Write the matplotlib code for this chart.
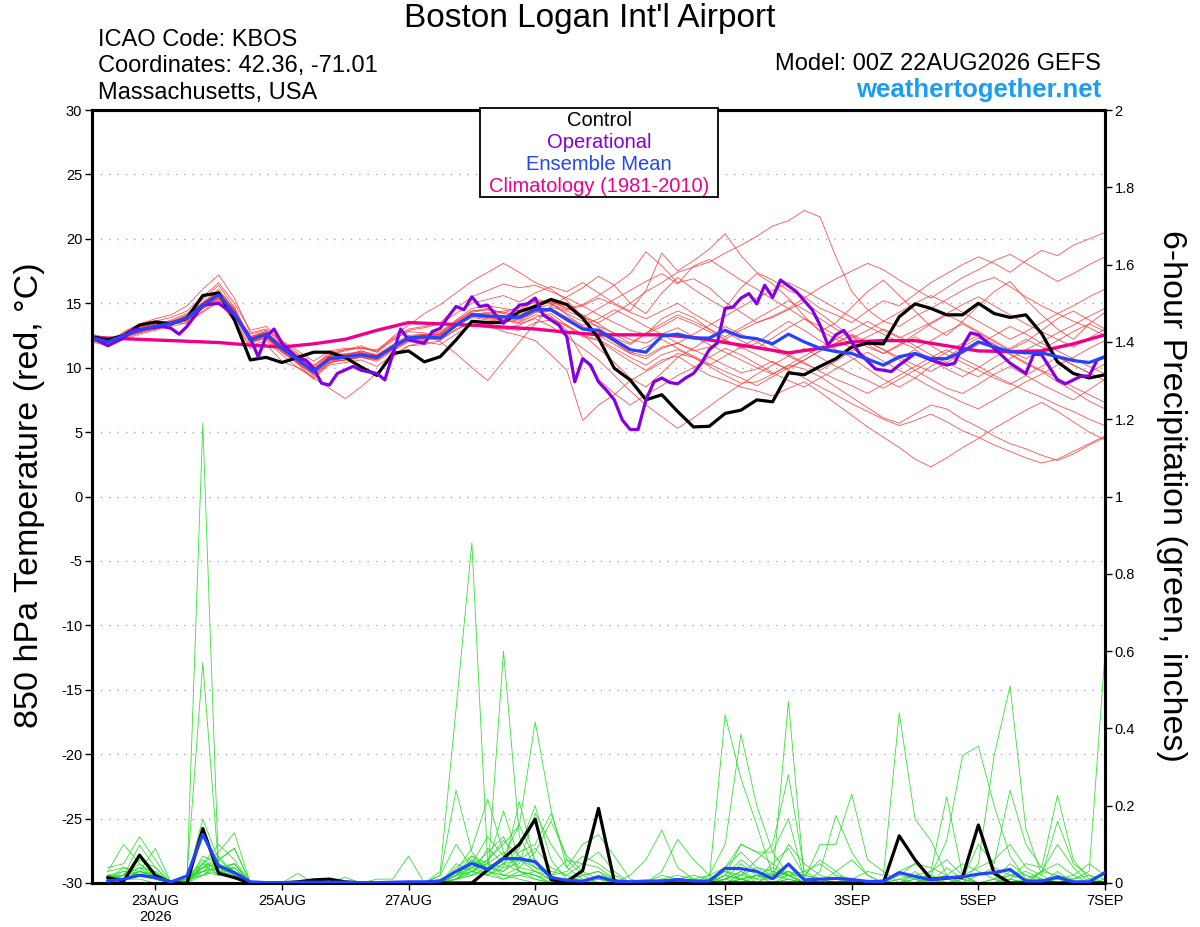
import matplotlib
matplotlib.use("Agg")
import matplotlib.pyplot as plt
from matplotlib.patches import Rectangle
import numpy as np

plt.rcParams['font.family'] = ['Liberation Sans', 'DejaVu Sans']

# ---- time axis (forecast hours from 00Z 22AUG2026) ----
hours_t = np.arange(0, 385, 6)          # temperature: 0..384 h
hours_p = np.arange(6, 385, 6)          # precipitation: 6..384 h
tick_hours = [24, 72, 120, 168, 240, 288, 336, 384]
tick_labels = ["23AUG\n2026", "25AUG", "27AUG", "29AUG", "1SEP", "3SEP", "5SEP", "7SEP"]

# ---- 850 hPa temperature (C) ----
ctl_temp = [12.4, 12.15, 12.5, 13.3, 13.55, 13.4, 13.85, 15.6, 15.8, 13.7, 10.6, 10.8, 10.4,
            10.8, 11.2, 11.2, 10.8, 10.05, 9.4, 11.1, 11.3, 10.45, 10.85, 12.15, 13.6, 13.5,
            13.5, 14.35, 14.75, 15.3, 14.9, 13.85, 12.3, 9.95, 9.05, 7.5, 7.9, 6.6, 5.4,
            5.45, 6.45, 6.7, 7.5, 7.35, 9.6, 9.45, 10.1, 10.7, 11.6, 11.9, 11.85, 13.95,
            14.95, 14.6, 14.1, 14.1, 15.0, 14.2, 13.9, 14.1, 12.65, 10.45, 9.55, 9.2, 9.45]

mean_temp = [12.35, 12.0, 12.5, 12.9, 13.2, 13.45, 13.85, 14.85, 15.65, 14.2, 12.15, 12.6, 11.5,
             10.6, 9.7, 10.7, 10.85, 11.0, 10.8, 11.6, 12.3, 12.4, 12.3, 13.3, 14.1, 14.0,
             13.95, 13.9, 14.5, 14.5, 13.75, 13.0, 12.9, 12.15, 11.4, 11.2, 12.45, 12.6, 12.3,
             12.3, 12.9, 12.4, 12.25, 11.85, 12.6, 12.0, 11.5, 11.25, 11.1, 10.65, 10.2, 10.85,
             11.1, 10.7, 10.7, 11.25, 12.0, 11.6, 11.25, 11.15, 11.15, 10.85, 10.55, 10.4, 10.85]

clim_hours = np.arange(0, 385, 12)
clim_temp = [12.35, 12.25, 12.15, 12.05, 11.95, 11.75, 11.6, 11.85, 12.2, 12.9, 13.5, 13.4,
             13.3, 13.15, 13.0, 12.75, 12.55, 12.55, 12.55, 12.35, 11.95, 11.55, 11.15, 11.5,
             12.0, 12.1, 12.1, 11.7, 11.3, 11.25, 11.3, 11.85, 12.55]

op_hours = [0, 6, 12, 15, 21, 27, 30, 33, 36, 42, 48, 54, 60, 63, 66, 69, 72, 78, 81, 84, 87,
            90, 93, 99, 102, 108, 111, 117, 120, 126, 129, 132, 135, 138, 141, 144, 147, 150,
            153, 156, 159, 162, 165, 168, 171, 174, 177, 180, 183, 186, 189, 192, 195, 198, 201,
            204, 207, 210, 213, 216, 219, 222, 225, 228, 231, 234, 237, 240, 243, 246, 249, 252,
            255, 258, 261, 267, 273, 276, 279, 282, 285, 291, 297, 303, 306, 312, 318, 324, 327,
            330, 333, 336, 342, 348, 354, 357, 360, 366, 369, 375, 378, 381, 384]
op_temp = [12.35, 11.7, 12.3, 12.9, 13.05, 13.2, 13.05, 12.6, 13.2, 14.85, 15.0, 14.1, 12.3,
           10.85, 12.4, 13.0, 11.9, 10.7, 10.6, 9.95, 8.8, 8.65, 9.55, 10.1, 9.8, 9.55, 9.05,
           13.0, 12.15, 11.9, 12.8, 13.05, 13.95, 14.75, 14.5, 15.5, 14.75, 14.85, 14.1, 13.45,
           14.2, 14.85, 14.95, 15.4, 14.1, 13.7, 13.3, 12.4, 8.9, 10.7, 10.2, 8.9, 8.25, 7.5,
           5.95, 5.2, 5.2, 7.5, 8.9, 9.2, 8.85, 8.75, 9.2, 9.55, 10.35, 11.4, 11.9, 14.6, 14.7,
           15.4, 15.75, 14.95, 16.4, 15.45, 16.8, 15.9, 14.5, 13.3, 11.75, 12.55, 12.9, 11.1,
           9.9, 9.7, 10.2, 11.1, 10.6, 10.2, 10.35, 11.65, 12.7, 12.55, 11.5, 10.35, 9.55,
           11.05, 11.0, 9.05, 8.75, 9.35, 9.35, 10.6, 10.85]

members_temp = [
    [12.1, 11.8, 12.7, 13.3, 13.6, 13.9, 14.4, 15.5, 16.6, 15.0, 12.9, 13.2, 12.0,
     11.1, 10.2, 11.0, 11.4, 11.7, 11.2, 12.1, 12.9, 13.1, 13.4, 14.2, 15.0, 15.3,
     15.6, 15.1, 15.8, 16.3, 15.9, 16.6, 15.8, 15.0, 14.4, 16.0, 18.9, 17.5, 18.3,
     19.2, 20.4, 18.7, 17.4, 16.8, 16.0, 15.5, 14.6, 14.1, 13.5, 14.4, 15.2, 14.8,
     15.7, 16.6, 17.3, 18.0, 18.6, 18.1, 17.4, 18.3, 19.1, 18.7, 19.5, 20.0, 20.5],
    [12.5, 12.2, 12.3, 12.8, 13.0, 13.5, 13.4, 14.4, 15.2, 13.8, 11.7, 12.1, 11.0,
     10.0, 9.3, 10.2, 10.4, 10.6, 10.1, 11.0, 11.7, 11.8, 12.1, 13.0, 13.5, 13.3,
     12.8, 12.5, 12.1, 11.0, 9.8, 5.9, 7.1, 7.9, 9.0, 9.7, 10.4, 11.1, 10.8,
     10.1, 9.4, 8.8, 8.9, 9.5, 10.2, 9.9, 9.3, 8.5, 7.7, 6.9, 6.1, 5.7,
     6.4, 7.1, 6.8, 6.0, 5.4, 4.7, 4.1, 3.7, 3.2, 2.8, 3.3, 4.0, 4.6],
    [12.0, 11.7, 12.4, 13.0, 13.4, 13.3, 14.1, 15.0, 16.1, 14.5, 11.9, 12.3, 11.2,
     10.4, 9.5, 10.3, 10.9, 11.3, 11.0, 11.8, 12.5, 12.6, 12.0, 11.1, 10.0, 9.0,
     10.5, 12.0, 13.4, 14.8, 15.5, 16.2, 17.1, 16.4, 15.0, 14.2, 15.8, 17.0, 16.1,
     15.3, 14.6, 16.2, 17.3, 16.5, 15.4, 14.0, 12.8, 13.5, 14.7, 15.9, 16.8, 15.6,
     14.4, 13.2, 12.5, 13.6, 14.8, 15.9, 16.7, 15.3, 14.1, 13.0, 12.2, 13.4, 14.3],
    [12.4, 12.1, 12.3, 12.7, 13.1, 13.6, 13.9, 14.6, 15.4, 14.4, 12.4, 12.8, 11.7,
     10.8, 10.0, 11.0, 11.3, 11.6, 11.2, 12.4, 13.3, 14.2, 14.9, 15.8, 16.7, 17.4,
     18.1, 17.4, 16.6, 16.1, 15.2, 14.0, 13.1, 12.3, 11.8, 12.6, 13.8, 14.4, 13.9,
     13.0, 12.2, 11.5, 11.9, 12.8, 13.6, 12.9, 12.1, 11.4, 10.8, 9.9, 9.1, 8.5,
     9.2, 10.1, 10.8, 11.6, 12.3, 11.8, 11.0, 10.3, 9.7, 8.9, 8.2, 7.4, 6.8],
    [12.3, 12.0, 12.6, 13.2, 13.3, 13.7, 14.2, 15.3, 16.4, 14.7, 12.2, 12.5, 11.3,
     10.3, 9.1, 10.4, 10.6, 10.9, 10.9, 11.7, 12.2, 12.5, 12.8, 13.6, 14.4, 14.6,
     14.2, 14.8, 15.3, 15.1, 14.6, 14.9, 15.6, 16.4, 17.3, 19.0, 17.9, 16.6, 16.9,
     16.2, 15.1, 14.3, 13.5, 13.9, 14.5, 15.1, 14.2, 13.3, 12.4, 11.6, 11.1, 11.8,
     12.6, 13.4, 14.1, 13.5, 12.8, 12.1, 11.4, 12.0, 12.9, 13.8, 14.4, 13.7, 13.0],
    [12.2, 11.9, 12.5, 12.8, 13.2, 13.4, 13.7, 14.8, 15.7, 14.3, 12.0, 12.4, 11.4,
     10.5, 9.8, 10.9, 11.1, 11.2, 10.7, 11.5, 12.2, 12.3, 12.6, 13.5, 14.3, 14.5,
     14.3, 14.0, 14.7, 15.1, 14.8, 13.9, 13.5, 14.2, 15.0, 15.9, 16.6, 17.4, 17.8,
     18.2, 18.9, 19.5, 20.2, 21.0, 21.4, 22.2, 21.7, 18.6, 15.9, 14.5, 13.6, 13.2,
     14.0, 14.6, 15.3, 16.0, 16.6, 17.0, 16.3, 15.5, 14.8, 14.2, 13.6, 13.1, 12.5],
    [12.6, 12.3, 12.4, 12.9, 13.0, 13.5, 13.6, 14.7, 15.5, 14.0, 12.3, 12.7, 11.6,
     10.7, 9.9, 10.6, 10.7, 10.8, 10.6, 11.4, 12.1, 12.2, 12.4, 13.4, 14.0, 13.8,
     13.7, 13.5, 14.1, 13.9, 13.2, 12.4, 12.1, 11.3, 10.5, 9.8, 10.6, 10.9, 10.1,
     9.4, 9.0, 8.5, 8.2, 7.8, 8.4, 8.9, 8.1, 7.2, 6.3, 5.4, 4.6, 3.8,
     2.9, 2.3, 3.0, 3.8, 4.5, 5.3, 6.0, 6.7, 7.3, 6.6, 5.8, 5.0, 4.4],
    [12.3, 12.1, 12.5, 12.9, 13.3, 13.6, 13.8, 14.9, 15.8, 14.4, 12.3, 12.7, 11.6,
     10.9, 9.8, 10.9, 11.0, 11.3, 10.9, 11.7, 12.4, 12.6, 12.7, 13.7, 14.6, 14.8,
     14.6, 14.4, 15.2, 15.0, 14.1, 13.2, 12.8, 12.0, 11.1, 10.7, 11.5, 11.9, 11.3,
     11.6, 12.2, 12.9, 13.5, 14.0, 14.6, 13.8, 12.9, 12.2, 11.5, 10.8, 10.1, 10.7,
     11.4, 10.6, 9.9, 9.3, 10.0, 10.8, 11.5, 12.2, 11.6, 10.9, 10.2, 9.6, 9.0],
    [12.4, 12.2, 12.6, 12.7, 13.0, 13.3, 13.9, 14.6, 15.3, 14.1, 12.6, 12.9, 12.1,
     11.3, 10.5, 11.3, 11.5, 11.5, 11.3, 12.2, 12.8, 12.7, 12.2, 12.9, 13.6, 13.4,
     13.1, 13.3, 13.9, 14.2, 13.3, 12.6, 11.5, 10.4, 9.2, 8.5, 9.6, 10.8, 11.5,
     12.3, 13.2, 12.6, 12.0, 11.3, 10.9, 10.3, 9.8, 10.5, 11.3, 12.0, 11.4, 10.6,
     9.8, 9.1, 8.4, 8.0, 8.7, 9.5, 10.1, 9.4, 8.7, 8.1, 7.5, 8.3, 9.1],
    [12.3, 11.9, 12.6, 13.1, 13.4, 13.5, 14.0, 15.1, 15.9, 14.6, 12.2, 12.6, 11.5,
     10.6, 9.7, 10.5, 10.8, 11.0, 10.8, 11.4, 12.1, 12.3, 12.2, 13.2, 13.9, 13.7,
     13.6, 13.8, 14.3, 14.7, 14.4, 13.9, 14.6, 15.3, 16.0, 16.7, 17.3, 16.5, 17.9,
     18.4, 17.6, 16.8, 16.1, 15.3, 14.6, 15.4, 16.2, 16.9, 17.5, 18.1, 17.6, 16.8,
     16.1, 15.4, 16.2, 17.0, 17.6, 18.3, 18.8, 18.1, 17.4, 16.7, 17.3, 18.0, 18.6],
    [12.2, 12.1, 12.3, 12.9, 13.1, 13.4, 13.7, 14.7, 15.6, 14.2, 12.1, 12.5, 11.4,
     10.5, 9.6, 10.6, 10.7, 10.9, 10.6, 11.5, 12.2, 12.3, 12.4, 13.3, 14.2, 14.1,
     14.0, 13.7, 14.4, 14.0, 12.9, 10.8, 9.1, 8.0, 7.1, 7.9, 8.6, 9.4, 10.0,
     10.8, 11.5, 11.0, 10.3, 9.6, 9.0, 8.5, 9.2, 9.9, 10.6, 11.2, 10.5, 9.8,
     9.2, 8.5, 7.9, 7.3, 6.8, 7.5, 8.2, 8.9, 9.5, 10.2, 10.8, 11.5, 12.1],
    [12.5, 12.3, 12.6, 13.0, 13.4, 13.6, 14.1, 15.0, 15.8, 14.3, 12.1, 12.6, 11.4,
     10.5, 9.8, 10.8, 11.0, 11.1, 11.0, 11.6, 12.3, 12.4, 12.5, 13.4, 14.2, 14.2,
     14.4, 14.6, 15.1, 15.0, 14.2, 13.6, 13.2, 12.7, 12.2, 11.9, 12.6, 13.1, 12.4,
     11.8, 11.2, 10.6, 10.0, 9.5, 10.2, 10.9, 11.6, 12.2, 12.9, 13.6, 12.9, 12.3,
     12.9, 13.5, 14.2, 14.9, 15.5, 14.8, 14.1, 13.4, 12.8, 12.2, 11.6, 12.3, 13.0],
    [12.2, 12.0, 12.4, 12.8, 13.2, 13.4, 13.6, 14.6, 15.4, 14.0, 12.0, 12.4, 11.3,
     10.3, 9.5, 10.5, 10.6, 10.8, 10.5, 11.3, 12.0, 12.1, 12.3, 13.2, 14.0, 13.9,
     13.8, 13.6, 14.3, 14.4, 13.8, 13.1, 12.7, 12.0, 11.2, 10.9, 11.6, 11.9, 11.4,
     10.8, 10.2, 9.6, 9.9, 10.5, 9.8, 9.2, 8.5, 7.9, 7.2, 6.6, 6.0, 5.5,
     5.9, 6.4, 5.8, 5.1, 4.6, 4.0, 3.5, 3.0, 2.6, 2.9, 3.5, 4.1, 4.7],
    [12.1, 11.8, 12.8, 13.4, 13.8, 14.1, 14.8, 16.1, 17.2, 15.4, 12.7, 13.0, 11.9,
     10.8, 9.9, 10.8, 10.9, 11.0, 10.7, 11.6, 12.3, 12.5, 12.6, 13.6, 14.4, 14.5,
     14.2, 14.0, 14.6, 14.9, 14.5, 14.8, 15.4, 14.9, 14.3, 13.8, 14.4, 15.0, 14.2,
     13.5, 12.8, 12.1, 11.5, 12.3, 13.1, 13.8, 13.2, 12.5, 11.8, 12.4, 13.0, 12.4,
     11.7, 11.0, 10.4, 9.8, 9.3, 10.0, 10.7, 11.4, 12.0, 12.7, 13.3, 14.0, 14.6],
    [12.3, 12.0, 12.2, 12.6, 12.9, 13.2, 13.5, 14.3, 15.1, 13.6, 11.5, 11.8, 10.5,
     10.0, 9.2, 8.4, 7.6, 8.5, 9.6, 10.8, 11.7, 12.0, 11.8, 12.6, 13.3, 13.1,
     13.0, 12.9, 13.5, 13.7, 13.3, 12.5, 12.2, 11.5, 10.8, 10.2, 11.0, 11.4, 10.8,
     10.2, 10.9, 11.6, 12.3, 11.7, 11.0, 10.4, 9.7, 9.1, 8.6, 8.0, 8.7, 9.4,
     10.1, 10.8, 11.4, 10.7, 10.1, 9.4, 8.8, 8.2, 7.7, 7.1, 6.6, 6.0, 5.5],
    [12.4, 12.2, 12.5, 13.0, 13.3, 13.5, 14.0, 14.9, 15.9, 14.5, 12.4, 12.7, 11.8,
     11.0, 10.1, 11.2, 11.4, 11.5, 11.4, 12.3, 13.0, 13.2, 13.5, 14.6, 15.5, 16.0,
     16.5, 16.2, 16.4, 15.9, 15.4, 14.8, 14.1, 13.5, 12.9, 12.6, 13.2, 13.9, 13.4,
     12.8, 12.1, 11.6, 11.0, 10.4, 9.9, 10.6, 11.3, 11.9, 12.6, 12.0, 11.4, 10.8,
     10.2, 9.7, 10.4, 11.1, 11.8, 12.5, 13.2, 12.6, 11.9, 11.3, 10.7, 10.1, 9.5],
    [12.3, 12.1, 12.6, 12.9, 13.1, 13.4, 13.8, 14.7, 15.5, 14.1, 12.0, 12.3, 11.2,
     10.4, 9.4, 10.4, 10.6, 10.8, 10.7, 11.5, 12.2, 12.3, 12.5, 13.3, 14.0, 13.9,
     13.7, 13.4, 13.8, 13.2, 12.4, 11.5, 10.6, 9.4, 8.2, 7.1, 6.2, 5.3, 6.1,
     7.0, 7.9, 8.7, 9.5, 10.2, 10.9, 11.5, 10.8, 10.1, 9.5, 9.0, 8.4, 9.1,
     9.8, 10.5, 11.2, 11.9, 12.5, 11.8, 11.1, 10.4, 9.8, 9.2, 8.5, 7.9, 7.3],
    [12.4, 12.0, 12.5, 12.8, 13.2, 13.5, 13.9, 14.8, 15.6, 14.3, 12.4, 12.8, 11.7,
     10.8, 9.9, 10.9, 11.0, 11.2, 10.9, 11.7, 12.4, 12.5, 12.6, 13.5, 14.1, 14.3,
     14.0, 14.3, 14.9, 15.2, 14.6, 14.1, 13.4, 12.6, 11.9, 12.7, 13.4, 14.1, 13.6,
     13.0, 12.4, 13.1, 13.8, 14.5, 15.2, 14.5, 13.8, 13.0, 12.3, 12.9, 13.6, 14.3,
     15.0, 15.6, 15.0, 14.3, 13.6, 12.9, 12.2, 12.8, 13.5, 14.2, 14.8, 15.5, 16.1],
    [12.2, 11.9, 12.4, 12.9, 13.3, 13.6, 13.9, 15.0, 15.8, 14.4, 12.2, 12.6, 11.5,
     10.6, 9.7, 10.7, 10.9, 11.1, 10.8, 11.6, 12.3, 12.5, 12.4, 13.3, 14.1, 14.0,
     13.9, 14.1, 14.7, 14.4, 13.6, 13.0, 12.5, 11.8, 11.1, 11.6, 12.2, 11.5, 10.9,
     10.3, 9.7, 9.2, 8.6, 9.3, 10.0, 10.6, 11.3, 11.9, 12.5, 11.8, 11.1, 11.7,
     12.4, 11.7, 11.0, 10.4, 9.8, 9.2, 8.7, 9.4, 10.1, 10.8, 10.2, 9.6, 10.3],
    [12.3, 12.1, 12.4, 12.8, 13.2, 13.5, 13.8, 14.8, 15.6, 14.2, 12.2, 12.5, 11.5,
     10.6, 9.8, 10.8, 10.9, 11.0, 10.9, 11.7, 12.3, 12.4, 12.3, 13.3, 14.2, 14.1,
     14.0, 14.0, 14.6, 14.6, 13.9, 13.3, 13.8, 14.5, 13.9, 13.2, 12.6, 11.9, 12.6,
     13.3, 14.0, 14.7, 15.4, 16.0, 16.6, 16.0, 15.3, 14.6, 13.9, 13.2, 12.6, 12.0,
     11.5, 12.1, 12.8, 13.4, 12.7, 12.0, 11.3, 10.7, 11.4, 12.1, 12.8, 13.4, 12.8],
]

# ---- 6-hour precipitation (inches) ----
ctl_precip = [0.014, 0.005, 0.072, 0.02, 0, 0, 0.141, 0.025, 0.014, 0, 0, 0, 0.003, 0.008, 0.01, 0.003,
              0, 0, 0, 0, 0, 0, 0, 0, 0.034, 0.064, 0.1, 0.165, 0.008, 0.004, 0.032, 0.193,
              0.004, 0.002, 0.003, 0.002, 0, 0, 0, 0, 0, 0, 0, 0, 0, 0, 0, 0,
              0, 0, 0.122, 0.06, 0.01, 0.013, 0.015, 0.15, 0.025, 0, 0, 0, 0, 0, 0, 0]

mean_precip = [0.005, 0.01, 0.02, 0.014, 0.003, 0.018, 0.126, 0.044, 0.027, 0.003, 0.001, 0.001, 0.002, 0.002, 0.002, 0.002,
               0.001, 0.001, 0.002, 0.003, 0.003, 0.005, 0.03, 0.051, 0.035, 0.063, 0.063, 0.055, 0.014, 0.007, 0.005, 0.016,
               0.005, 0.003, 0.005, 0.005, 0.009, 0.005, 0.005, 0.038, 0.037, 0.03, 0.011, 0.049, 0.008, 0.01, 0.012, 0.009,
               0.004, 0.004, 0.027, 0.017, 0.008, 0.014, 0.016, 0.023, 0.027, 0.035, 0.005, 0.005, 0.015, 0.003, 0.003, 0.027]

members_precip = [
    [0.02, 0.01, 0.03, 0.02, 0, 0.01, 1.19, 0.03, 0.02, 0, 0, 0, 0, 0, 0, 0,
     0, 0, 0, 0, 0, 0, 0.01, 0.05, 0.02, 0.01, 0.03, 0.02, 0, 0, 0, 0.01,
     0, 0, 0, 0.01, 0, 0, 0, 0.02, 0.01, 0, 0, 0.01, 0, 0, 0, 0,
     0, 0, 0.02, 0.01, 0, 0, 0, 0, 0, 0.02, 0.01, 0, 0, 0, 0, 0.01],
    [0.01, 0.03, 0.02, 0.01, 0, 0.02, 0.57, 0.04, 0.03, 0, 0, 0, 0, 0, 0, 0,
     0, 0, 0, 0, 0, 0.03, 0.45, 0.88, 0.05, 0.02, 0.02, 0.01, 0, 0, 0, 0,
     0, 0, 0, 0.02, 0.01, 0, 0, 0.01, 0.03, 0, 0, 0, 0, 0, 0, 0,
     0, 0, 0, 0.03, 0, 0.01, 0, 0, 0, 0.01, 0, 0, 0.02, 0, 0, 0],
    [0.04, 0.05, 0.12, 0.06, 0, 0.01, 0.165, 0.06, 0.03, 0, 0, 0, 0, 0, 0, 0,
     0, 0, 0, 0, 0, 0, 0.02, 0.04, 0.02, 0.6, 0.12, 0.04, 0.02, 0, 0, 0,
     0, 0, 0, 0, 0, 0, 0, 0.01, 0.05, 0.02, 0.01, 0.47, 0.01, 0, 0, 0,
     0, 0, 0, 0.01, 0.02, 0, 0, 0, 0, 0, 0, 0.01, 0, 0, 0, 0],
    [0.03, 0.1, 0.05, 0.02, 0, 0.02, 0.05, 0.08, 0.13, 0, 0, 0, 0, 0, 0, 0,
     0, 0, 0, 0, 0, 0, 0.01, 0.03, 0.06, 0.1, 0.15, 0.417, 0.19, 0.04, 0.01, 0,
     0, 0, 0, 0, 0, 0, 0, 0.02, 0.01, 0, 0, 0.02, 0, 0, 0, 0.01,
     0.03, 0.02, 0.44, 0.165, 0.11, 0.02, 0, 0, 0, 0, 0, 0.01, 0, 0, 0, 0],
    [0.01, 0.02, 0.098, 0.04, 0, 0.01, 0.04, 0.05, 0.02, 0, 0, 0, 0, 0, 0, 0,
     0, 0, 0, 0, 0, 0, 0.02, 0.06, 0.03, 0.01, 0.02, 0.03, 0.01, 0, 0, 0,
     0, 0, 0, 0, 0.01, 0.02, 0.01, 0.435, 0.27, 0.15, 0.02, 0.01, 0, 0, 0, 0,
     0, 0, 0, 0, 0.01, 0, 0, 0.05, 0.33, 0.51, 0.14, 0.02, 0, 0, 0, 0],
    [0, 0.01, 0.03, 0.09, 0, 0.01, 0.03, 0.06, 0.09, 0, 0, 0, 0, 0, 0, 0,
     0, 0, 0, 0, 0, 0, 0.01, 0.02, 0.09, 0.05, 0.06, 0.04, 0.02, 0, 0.02, 0.03,
     0, 0, 0, 0, 0, 0, 0.02, 0.1, 0.385, 0.2, 0.08, 0.02, 0, 0, 0, 0,
     0, 0, 0, 0, 0.02, 0.11, 0.33, 0.354, 0.2, 0.07, 0.01, 0, 0, 0, 0, 0],
    [0.02, 0.02, 0.04, 0.01, 0, 0, 0.03, 0.04, 0.05, 0, 0, 0, 0, 0, 0, 0,
     0, 0, 0, 0, 0, 0.02, 0.24, 0.08, 0.03, 0.02, 0.01, 0, 0, 0, 0, 0,
     0, 0, 0, 0, 0, 0, 0, 0, 0.02, 0.06, 0.1, 0.28, 0.03, 0.01, 0, 0,
     0, 0, 0, 0, 0, 0, 0.01, 0, 0, 0.03, 0.02, 0, 0.02, 0.01, 0.03, 0.595],
    [0.01, 0.04, 0.02, 0.03, 0, 0.01, 0.06, 0.03, 0.04, 0, 0, 0, 0, 0, 0, 0,
     0, 0, 0, 0, 0, 0, 0.03, 0.09, 0.217, 0.08, 0.03, 0.02, 0, 0, 0, 0.02,
     0.01, 0, 0, 0, 0, 0, 0, 0.02, 0.1, 0.08, 0.08, 0.167, 0.01, 0.1, 0.1, 0.23,
     0.06, 0.03, 0, 0, 0, 0, 0.01, 0, 0, 0, 0.01, 0, 0.03, 0, 0, 0],
    [0.01, 0.02, 0.03, 0.02, 0, 0.01, 0.04, 0.07, 0.02, 0, 0, 0, 0.025, 0, 0, 0,
     0, 0, 0, 0, 0, 0, 0.01, 0.04, 0.05, 0.186, 0.06, 0.03, 0.01, 0, 0, 0,
     0, 0.02, 0.06, 0.137, 0.04, 0.01, 0, 0.01, 0, 0.02, 0.01, 0.02, 0, 0.03, 0.175, 0.08,
     0.02, 0, 0, 0.01, 0, 0, 0, 0, 0, 0, 0, 0, 0, 0, 0, 0],
    [0.02, 0.01, 0.02, 0.02, 0, 0, 0.05, 0.04, 0.05, 0, 0, 0, 0, 0, 0, 0,
     0, 0, 0, 0, 0, 0, 0.02, 0.07, 0.05, 0.04, 0.21, 0.05, 0.02, 0, 0, 0,
     0, 0, 0, 0.03, 0.113, 0.06, 0.02, 0, 0.01, 0.02, 0, 0.01, 0, 0, 0, 0,
     0, 0, 0.01, 0.02, 0.03, 0.223, 0.02, 0, 0, 0.01, 0.05, 0.04, 0.227, 0.06, 0.01, 0],
    [0.01, 0.02, 0.05, 0.01, 0, 0.01, 0.02, 0.03, 0.03, 0, 0, 0, 0, 0, 0, 0,
     0, 0, 0, 0, 0, 0, 0.05, 0.03, 0.02, 0.04, 0.05, 0.18, 0.1, 0.04, 0.1, 0.125,
     0.07, 0.01, 0, 0, 0, 0, 0, 0, 0.01, 0, 0.03, 0.02, 0, 0, 0, 0,
     0, 0, 0, 0, 0, 0.01, 0.02, 0.04, 0.06, 0.1, 0.04, 0.02, 0.16, 0.05, 0.02, 0],
    [0.03, 0.04, 0.03, 0.02, 0, 0, 0.07, 0.05, 0.02, 0, 0, 0, 0, 0, 0, 0.015,
     0, 0.01, 0.01, 0.07, 0, 0, 0.02, 0.06, 0.04, 0.03, 0.08, 0.1, 0.18, 0.06, 0.02, 0,
     0, 0, 0, 0, 0, 0, 0, 0, 0, 0, 0.02, 0.03, 0, 0, 0, 0,
     0, 0, 0, 0, 0, 0, 0, 0, 0, 0.01, 0, 0.03, 0.05, 0.02, 0, 0],
    [0.02, 0.01, 0.01, 0, 0, 0.01, 0.03, 0.02, 0.03, 0, 0, 0, 0, 0, 0, 0,
     0, 0, 0, 0, 0, 0.01, 0.03, 0.04, 0.06, 0.11, 0.07, 0.04, 0.03, 0.02, 0.05, 0.08,
     0.03, 0, 0, 0, 0, 0.01, 0.02, 0.04, 0.1, 0.08, 0.05, 0.02, 0, 0, 0, 0,
     0, 0.01, 0.02, 0.05, 0.04, 0.02, 0, 0, 0, 0, 0, 0, 0, 0, 0.01, 0.02],
    [0.01, 0.02, 0.06, 0.04, 0, 0, 0.04, 0.06, 0.09, 0, 0, 0, 0, 0, 0, 0,
     0, 0, 0, 0, 0, 0.02, 0.1, 0.04, 0.08, 0.12, 0.03, 0.01, 0, 0, 0, 0,
     0, 0, 0, 0.01, 0.02, 0.01, 0, 0.03, 0.02, 0.01, 0.05, 0.09, 0.02, 0.01, 0, 0,
     0, 0, 0, 0, 0, 0, 0.01, 0.1, 0.05, 0.24, 0.1, 0.04, 0.01, 0, 0, 0],
    [0.02, 0.03, 0.02, 0.02, 0, 0.01, 0.05, 0.1, 0.06, 0, 0, 0, 0, 0, 0, 0,
     0, 0, 0, 0, 0, 0, 0.02, 0.05, 0.12, 0.07, 0.15, 0.06, 0.02, 0.03, 0.07, 0.05,
     0.02, 0, 0, 0, 0, 0, 0, 0.01, 0.02, 0.04, 0.03, 0.02, 0.02, 0.06, 0.03, 0,
     0, 0, 0, 0, 0, 0.04, 0.01, 0, 0, 0, 0, 0.03, 0.02, 0, 0, 0],
    [0.01, 0.01, 0.02, 0.01, 0, 0.01, 0.04, 0.03, 0.05, 0, 0, 0, 0, 0, 0, 0,
     0, 0, 0, 0, 0, 0, 0.01, 0.02, 0.03, 0.05, 0.09, 0.2, 0.06, 0.01, 0, 0,
     0, 0, 0, 0, 0, 0, 0, 0.02, 0.06, 0.03, 0.02, 0.05, 0.01, 0, 0.03, 0.06,
     0.02, 0, 0.03, 0.05, 0.02, 0, 0, 0, 0.01, 0.02, 0.03, 0.01, 0, 0, 0, 0],
    [0, 0.01, 0.03, 0.02, 0, 0, 0.05, 0.02, 0.04, 0, 0, 0, 0, 0, 0, 0,
     0, 0, 0, 0, 0, 0, 0.04, 0.07, 0.03, 0.02, 0.04, 0.08, 0.16, 0.07, 0.03, 0.01,
     0, 0, 0, 0, 0, 0, 0, 0, 0.01, 0.02, 0.01, 0.03, 0.01, 0, 0, 0,
     0, 0, 0, 0, 0.03, 0.06, 0.02, 0, 0, 0, 0, 0, 0.01, 0.02, 0.05, 0.02],
    [0.01, 0.02, 0.04, 0.03, 0, 0.02, 0.03, 0.04, 0.02, 0, 0, 0, 0, 0, 0, 0,
     0, 0, 0, 0, 0, 0, 0.02, 0.03, 0.05, 0.08, 0.04, 0.03, 0.02, 0.06, 0.05, 0.04,
     0.01, 0, 0, 0, 0, 0, 0.01, 0.03, 0.01, 0.02, 0.04, 0.02, 0.03, 0.05, 0.02, 0.01,
     0, 0, 0, 0, 0, 0, 0, 0.02, 0.04, 0.02, 0.01, 0.03, 0.1, 0.04, 0, 0],
    [0.02, 0.01, 0.02, 0.02, 0, 0, 0.02, 0.05, 0.03, 0, 0, 0, 0, 0, 0, 0,
     0, 0, 0, 0, 0, 0, 0.03, 0.02, 0.04, 0.03, 0.06, 0.09, 0.04, 0.02, 0, 0,
     0, 0, 0, 0, 0, 0, 0, 0.04, 0.08, 0.04, 0.02, 0.1, 0.05, 0.02, 0.01, 0,
     0, 0, 0.01, 0, 0.01, 0.02, 0.05, 0.03, 0.01, 0, 0, 0, 0, 0.01, 0.02, 0.01],
    [0.01, 0.01, 0.03, 0.01, 0, 0.01, 0.02, 0.04, 0.04, 0, 0, 0, 0, 0, 0, 0,
     0, 0, 0, 0, 0, 0, 0.01, 0.03, 0.02, 0.05, 0.03, 0.02, 0.01, 0.01, 0.02, 0.03,
     0.01, 0, 0, 0, 0, 0, 0, 0.01, 0.03, 0.01, 0.01, 0.03, 0.02, 0.01, 0, 0,
     0, 0, 0, 0.02, 0.01, 0, 0, 0, 0.01, 0.05, 0.02, 0.01, 0, 0, 0, 0.03],
]

for m in members_temp:
    assert len(m) == len(hours_t), len(m)
for m in members_precip:
    assert len(m) == len(hours_p), len(m)
assert len(op_hours) == len(op_temp)

C_RED = "#ff3333"; C_GRN = "#22dd22"; C_OP = "#8400e0"; C_MEAN = "#2244ff"; C_CLIM = "#ee0088"

fig = plt.figure(figsize=(12, 9.27), dpi=100)
ax = fig.add_axes([92/1200, 44/927, 1013/1200, 773/927])
ax2 = ax.twinx()

# temperature
for m in members_temp:
    ax.plot(hours_t, m, color=C_RED, lw=0.6, alpha=0.85, zorder=2)
ax.plot(clim_hours, clim_temp, color=C_CLIM, lw=2.4, zorder=4)
ax.plot(hours_t, ctl_temp, color="black", lw=2.3, zorder=5)
ax.plot(op_hours, op_temp, color=C_OP, lw=2.3, zorder=6)
ax.plot(hours_t, mean_temp, color=C_MEAN, lw=2.3, zorder=7)

# precipitation
for m in members_precip:
    ax2.plot(hours_p, m, color=C_GRN, lw=0.6, alpha=0.9, zorder=2)
ax2.plot(hours_p, ctl_precip, color="black", lw=2.3, zorder=5)
ax2.plot(hours_p, mean_precip, color=C_MEAN, lw=2.3, zorder=7)

ax.set_xlim(0, 384)
ax.set_ylim(-30, 30)
ax2.set_ylim(0, 2)
ax.set_yticks(np.arange(-30, 31, 5))
ax.set_yticklabels([str(v) for v in range(-30, 31, 5)])
p_ticks = np.round(np.arange(0, 2.01, 0.2), 1)
ax2.set_yticks(p_ticks)
ax2.set_yticklabels([("%g" % v) for v in p_ticks])
ax.set_xticks(tick_hours)
ax.set_xticklabels(tick_labels)

for a in (ax, ax2):
    for s in a.spines.values():
        s.set_linewidth(2.2)
    a.tick_params(direction="out", length=5, width=1.0, labelsize=10.5, pad=2)
ax.tick_params(axis="x", labelsize=10.5, pad=3)

for v in range(-25, 30, 5):
    ax.axhline(v, color="#aaaaaa", lw=1.0, ls=(0, (1, 5)), zorder=1)

# headers
def fx(px): return px / 1200
def fy(py): return 1 - py / 927

fig.text(fx(590), fy(18), "Boston Logan Int'l Airport", ha="center", va="center", fontsize=24)
fig.text(fx(98), fy(40), "ICAO Code: KBOS", ha="left", va="center", fontsize=17)
fig.text(fx(98), fy(66), "Coordinates: 42.36, -71.01", ha="left", va="center", fontsize=17)
fig.text(fx(98), fy(93), "Massachusetts, USA", ha="left", va="center", fontsize=17)
fig.text(fx(1101), fy(64), "Model: 00Z 22AUG2026 GEFS", ha="right", va="center", fontsize=17)
fig.text(fx(1101), fy(90), "weathertogether.net", ha="right", va="center", fontsize=18.5,
         fontweight="bold", color="#1a9ef5")

fig.text(fx(30), fy(495), "850 hPa Temperature (red, °C)", rotation=90, ha="center", va="center",
         fontsize=24.5)
fig.text(fx(1172), fy(496), "6-hour Precipitation (green, inches)", rotation=270, ha="center",
         va="center", fontsize=24.5)

# legend box
fig.patches.append(Rectangle((fx(480), fy(197)), fx(718) - fx(480), fy(108) - fy(197),
                             transform=fig.transFigure, facecolor="white", edgecolor="black",
                             lw=1.3, zorder=10))
leg = [("Control", "black"), ("Operational", C_OP), ("Ensemble Mean", C_MEAN),
       ("Climatology (1981-2010)", C_CLIM)]
for i, (t, c) in enumerate(leg):
    fig.text(fx(599), fy(121 + i * 21.7), t, color=c, ha="center", va="center", fontsize=14.5,
             zorder=11)

fig.savefig("out.png", dpi=100)
